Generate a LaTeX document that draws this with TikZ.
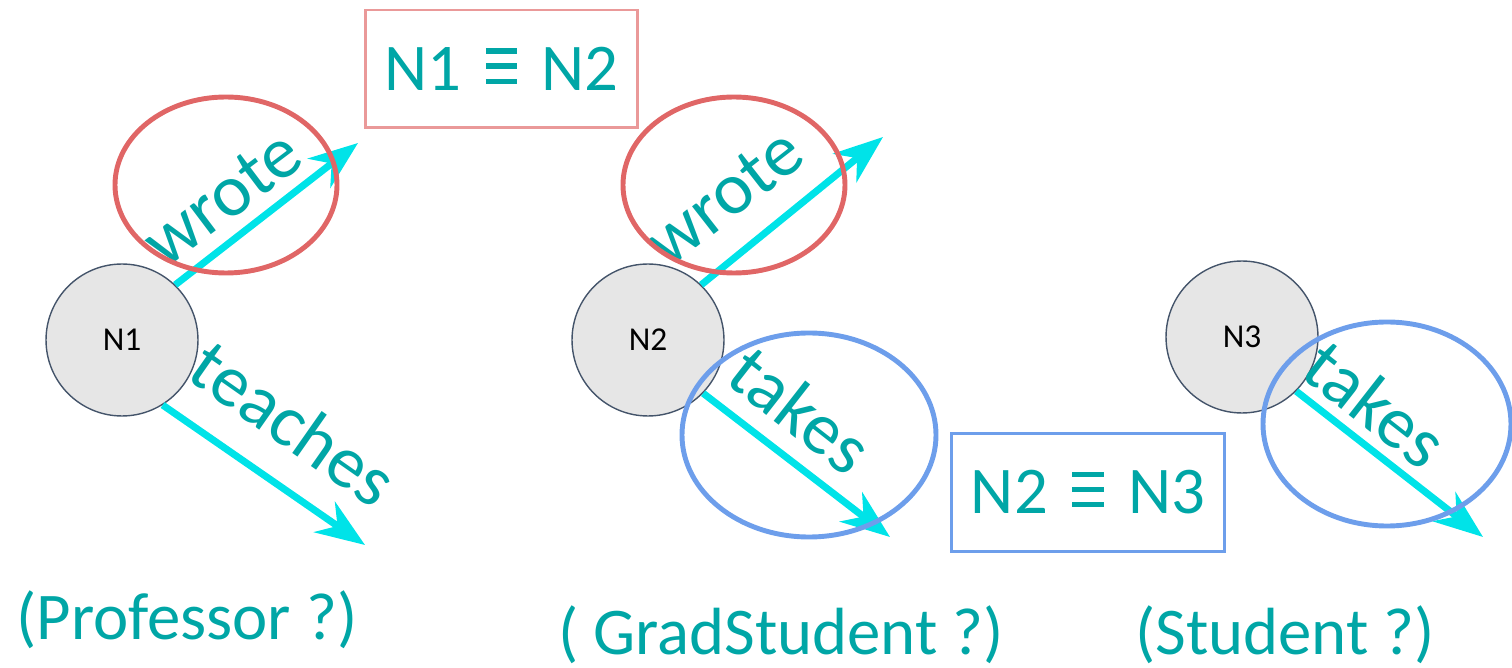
\documentclass[tikz,border=0pt]{standalone}
\usepackage{fontspec}
\setmainfont{Carlito}
\usetikzlibrary{arrows.meta}
\definecolor{tealtext}{RGB}{0,166,166}
\definecolor{arrcyan}{RGB}{0,227,232}
\definecolor{boxred}{RGB}{234,153,153}
\definecolor{ringred}{RGB}{224,102,102}
\definecolor{ringblue}{RGB}{109,158,235}
\definecolor{nodegray}{RGB}{230,230,230}
\definecolor{nodeedge}{RGB}{68,84,106}
% identity sign built from three bars
\newcommand{\ident}{\mbox{\hspace{.14em}%
	\rule[.1em]{.47em}{.08em}\hspace{-.47em}%
	\rule[.33em]{.47em}{.08em}\hspace{-.47em}%
	\rule[.555em]{.47em}{.08em}\hspace{.14em}}}
\tikzset{
	ent/.style={
		circle, draw=nodeedge, fill=nodegray, line width=.8pt,
		minimum size=3.04cm, inner sep=0pt,
		font=\fontsize{19}{22}\selectfont
	},
	rel/.style={
		arrcyan, line width=4pt,
		-{Stealth[length=28pt, width=21pt, inset=9pt]}
	},
	lbl/.style={text=tealtext, font=\fontsize{42}{48}\selectfont},
	cls/.style={text=tealtext, anchor=base, font=\fontsize{38}{44}\selectfont},
	eqv/.style={
		draw, line width=1.7pt, minimum width=5.46cm, minimum height=2.36cm,
		text=tealtext, font=\fontsize{38}{44}\selectfont
	},
	ring/.style={line width=2.8pt}
}

\begin{document}
\begin{tikzpicture}[x=0.02cm, y=-0.02cm]
\useasboundingbox (0,0) rectangle (1512,668);

% entities
\node[ent] (N1) at (122,340) {N1};
\node[ent] (N2) at (648,340) {N2};
\node[ent] (N3) at (1242,337) {N3};

% free ends of the relations
\coordinate (w1) at (358,143);
\coordinate (t1) at (365,545);
\coordinate (w2) at (883,137);
\coordinate (k2) at (890,537);
\coordinate (k3) at (1483,537);

\draw[rel] (N1.46) -- (w1);
\draw[rel] (N1.-58) -- (t1);
\draw[rel] (N2.46) -- (w2);
\draw[rel] (N2.-44) -- (k2);
\draw[rel] (N3.-45) -- (k3);

\node[lbl, rotate=37] (lw1) at (222,198) {wrote};
\node[lbl, rotate=-35] (lt1) at (294,423) {teaches};
\node[lbl, rotate=38] (lw2) at (724,197) {wrote};
\node[lbl, rotate=-38] (lk2) at (801,410) {takes};
\node[lbl, rotate=-38] (lk3) at (1376,404) {takes};

% matching relations
\draw[ring, ringred] (226,185) ellipse [x radius=111, y radius=88];
\draw[ring, ringred] (734,185) ellipse [x radius=111, y radius=88];
\draw[ring, ringblue] (809,435) ellipse [x radius=127, y radius=102];
\draw[ring, ringblue] (1387,424) ellipse [x radius=124, y radius=102];

\node[eqv, draw=boxred] (eq12) at (501.5,69) {N1 \ident{} N2};
\node[eqv, draw=ringblue] (eq23) at (1088,492.5) {N2 \ident{} N3};

% guessed classes
\node[cls] (c1) at (187,640) {(Professor ?)};
\node[cls] (c2) at (781,655) {( GradStudent ?)};
\node[cls] (c3) at (1285,655) {(Student ?)};
\end{tikzpicture}
\end{document}
